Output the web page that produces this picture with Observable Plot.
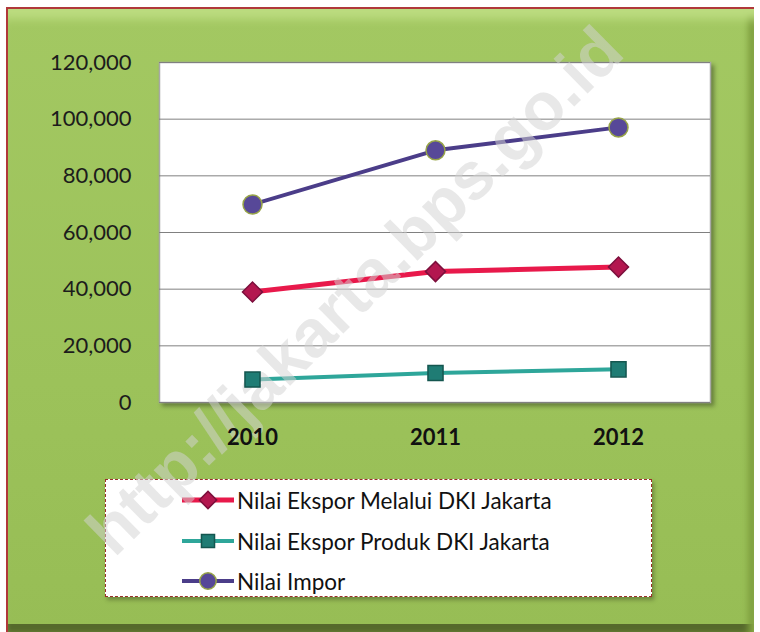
<!DOCTYPE html>
<html>
<head>
<meta charset="utf-8">
<script src="https://cdn.jsdelivr.net/npm/d3@7"></script>
<script src="https://cdn.jsdelivr.net/npm/@observablehq/plot@0.6"></script>
<style>
  html, body { margin: 0; padding: 0; background: #fff; }
  body { width: 760px; height: 632px; position: relative; overflow: hidden; font-family: Lato, "Open Sans", sans-serif; }
  #frame {
    position: absolute; left: 6px; top: 7px; width: 746px; height: 623px;
    border-top: 2px solid #b0383a; border-left: 2px solid #b0383a;
    background: linear-gradient(to bottom, #a3c862 0%, #9cc25a 60%, #97bd55 100%);
    box-shadow: inset 0 16px 10px -6px #bcdc80, inset -8px 0 6px -2px #7f9f3f, inset 0 -8px 0 0 #56692c;
  }
  #legend {
    position: absolute; left: 105px; top: 479px; width: 545px; height: 116px;
    background: #fff; border: 1.5px dashed #9b2f2a;
    box-shadow: 2px 3px 4px rgba(60,70,30,0.45);
  }
  .row { position: absolute; left: 76px; height: 30px; display: flex; align-items: center; white-space: nowrap; }
  .row span { font-size: 22.5px; color: #111; margin-left: 3px; }
  #chart { position: absolute; left: 0; top: 0; }
</style>
</head>
<body>
<div id="frame"></div>
<div id="legend"></div>
<div id="chart"></div>
<script>
const years = ["2010", "2011", "2012"];
const seriesNames = ["Nilai Ekspor Melalui DKI Jakarta", "Nilai Ekspor Produk DKI Jakarta", "Nilai Impor"];
const eksporMelalui = [39000, 46200, 47800];
const eksporProduk = [8100, 10400, 11700];
const impor = [69900, 89000, 97100];
const yTicks = [0, 20000, 40000, 60000, 80000, 100000, 120000];
const watermarkText = "http://jakarta.bps.go.id";

const lineColors = ["#e8194b", "#2ea69a", "#4b3d89"];
const dotFill = ["#b3174f", "#1f7c74", "#574898"];
const dotStroke = ["#7c0f3c", "#14564f", "#97a447"];
const symbols = ["square", "square", "circle"];
const rotations = [45, 0, 0];
const radii = [8, 8.5, 9.5];
const widths = [5, 4, 4];

const seriesValues = [eksporMelalui, eksporProduk, impor];
const data = [];
seriesNames.forEach((s, i) => years.forEach((yr, j) => data.push({series: s, idx: i, year: yr, value: seriesValues[i][j]})));

function watermark(index, scales, values, dims) {
  const t = d3.create("svg:text")
    .attr("transform", "translate(354,290) rotate(-44.5)")
    .attr("text-anchor", "middle")
    .attr("dominant-baseline", "central")
    .attr("font-family", "'Liberation Sans', Arial, sans-serif")
    .attr("font-weight", "bold")
    .attr("font-size", 67)
    .attr("fill", "#d2d2d2")
    .attr("fill-opacity", 0.52)
    .text(watermarkText);
  return t.node();
}

const marks = [
  Plot.frame({fill: "white", stroke: "#a8a8a8", strokeWidth: 1.5}),
  Plot.gridY(yTicks, {stroke: "#808080", strokeOpacity: 1, strokeWidth: 1}),
];
seriesNames.forEach((s, i) => {
  const d = data.filter(r => r.idx === i);
  marks.push(Plot.line(d, {x: "year", y: "value", stroke: lineColors[i], strokeWidth: widths[i]}));
});
marks.push(watermark);
seriesNames.forEach((s, i) => {
  const d = data.filter(r => r.idx === i);
  marks.push(Plot.dot(d, {x: "year", y: "value", symbol: symbols[i], rotate: rotations[i], r: radii[i], fill: dotFill[i], stroke: dotStroke[i], strokeWidth: 1.5}));
});
marks.push(Plot.axisY(yTicks, {tickSize: 0, tickPadding: 28, tickFormat: d3.format(","), fontSize: 22, fill: "#1c1c1c"}));
marks.push(Plot.axisX({tickSize: 0, tickPadding: 27, fontSize: 22, fontWeight: "bold", fill: "#111"}));

const chart = Plot.plot({
  width: 760, height: 632,
  marginLeft: 159, marginRight: 50, marginTop: 62, marginBottom: 230,
  style: {background: "transparent", fontFamily: "Lato, 'Open Sans', sans-serif", overflow: "visible"},
  x: {type: "point", domain: years, padding: 0.5, label: null},
  y: {domain: [0, 120000], label: null},
  marks
});
document.getElementById("chart").appendChild(chart);
// subtle 3D shadow on the plot area
d3.select(chart).select("[aria-label=frame]").style("filter", "drop-shadow(3px 3px 2px rgba(0,0,0,0.35))");

// legend
const legend = document.getElementById("legend");
const rowCenters = [20, 61, 101];
seriesNames.forEach((s, i) => {
  const row = document.createElement("div");
  row.className = "row";
  row.style.top = (rowCenters[i] - 15) + "px";
  const svg = d3.create("svg").attr("width", 52).attr("height", 30);
  svg.append("line").attr("x1", 0).attr("x2", 52).attr("y1", 15).attr("y2", 15)
    .attr("stroke", lineColors[i]).attr("stroke-width", widths[i]);
  const sym = symbols[i] === "circle" ? d3.symbolCircle : d3.symbolSquare;
  svg.append("path").attr("d", d3.symbol(sym, Math.PI * radii[i] * radii[i] * 0.75)())
    .attr("transform", `translate(26,15) rotate(${rotations[i]})`)
    .attr("fill", dotFill[i]).attr("stroke", dotStroke[i]).attr("stroke-width", 1.5);
  row.appendChild(svg.node());
  const span = document.createElement("span");
  span.textContent = s;
  row.appendChild(span);
  legend.appendChild(row);
});
</script>
</body>
</html>
